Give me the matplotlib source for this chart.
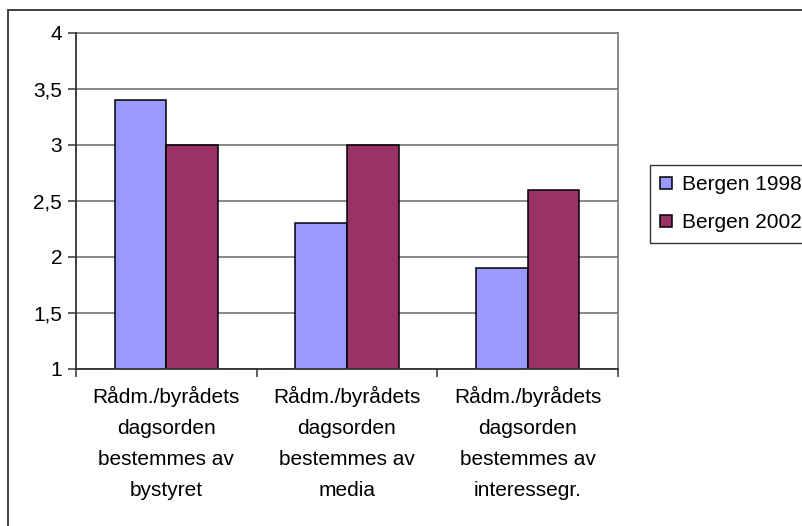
import numpy as np
import matplotlib.pyplot as plt
from matplotlib.patches import Rectangle

plt.rcParams['font.family'] = ['Liberation Sans', 'DejaVu Sans']

categories = [
    "Rådm./byrådets\ndagsorden\nbestemmes av\nbystyret",
    "Rådm./byrådets\ndagsorden\nbestemmes av\nmedia",
    "Rådm./byrådets\ndagsorden\nbestemmes av\ninteressegr.",
]
bergen_1998 = [3.4, 2.3, 1.9]
bergen_2002 = [3.0, 3.0, 2.6]
series_names = ["Bergen 1998", "Bergen 2002"]
y_ticks = [1, 1.5, 2, 2.5, 3, 3.5, 4]
y_tick_labels = ["1", "1,5", "2", "2,5", "3", "3,5", "4"]

W, H = 802, 526
fig = plt.figure(figsize=(W / 100, H / 100), dpi=100)
ax = fig.add_axes([76 / W, 1 - 369 / H, (618 - 76) / W, (369 - 33) / H])

x = np.arange(len(categories))
bw = 0.286
ax.bar(x - bw / 2, bergen_1998, bw, bottom=0, color="#9999FF",
       edgecolor="black", linewidth=1.1, label=series_names[0], zorder=3)
ax.bar(x + bw / 2, bergen_2002, bw, bottom=0, color="#993366",
       edgecolor="black", linewidth=1.1, label=series_names[1], zorder=3)

ax.set_ylim(1, 4)
ax.set_xlim(-0.5, len(categories) - 0.5)
ax.set_yticks(y_ticks)
ax.set_yticklabels(y_tick_labels, fontsize=15)
ax.yaxis.grid(True, color="#808080", linewidth=1.3, zorder=0)
ax.tick_params(axis="y", direction="out", length=6, width=1.1, color="#333333", pad=4)

# category boundaries as ticks, labels centred between them
ax.set_xticks(np.arange(-0.5, len(categories)), labels=[""] * (len(categories) + 1))
ax.tick_params(axis="x", which="major", direction="out", length=6, width=1.1, color="#333333")
ax.set_xticks(x, minor=True)
ax.set_xticklabels(categories, minor=True, fontsize=15, linespacing=1.8)
ax.tick_params(axis="x", which="minor", length=0, pad=12)

for side in ["left", "bottom"]:
    ax.spines[side].set_color("#333333")
    ax.spines[side].set_linewidth(1.3)
    ax.spines[side].set_zorder(4)
for side in ["top", "right"]:
    ax.spines[side].set_color("#808080")
    ax.spines[side].set_linewidth(1.3)

leg = fig.legend(loc="upper left", bbox_to_anchor=(650 / W, 1 - 165 / H),
                 fontsize=15, frameon=True, fancybox=False, edgecolor="black",
                 handlelength=0.55, handleheight=0.55, handletextpad=0.5,
                 borderpad=0.5, labelspacing=0.9, borderaxespad=0)
leg.get_frame().set_linewidth(1.0)

# outer chart border
fig.patches.append(Rectangle((8 / W, -0.1), 1.2, 1.1 - 10 / H,
                             transform=fig.transFigure, fill=False,
                             edgecolor="#333333", linewidth=1.3))

fig.savefig("out.png", dpi=100)
